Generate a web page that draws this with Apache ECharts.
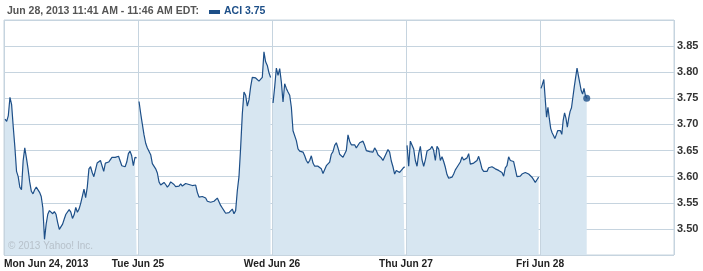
<!DOCTYPE html>
<html><head><meta charset="utf-8">
<script src="https://cdn.jsdelivr.net/npm/echarts@6/dist/echarts.min.js"></script>
<style>html,body{margin:0;padding:0;background:#fff}#c{width:703px;height:271px}</style>
</head><body><div id="c"></div>
<script>
const dayLabels = ['Mon Jun 24, 2013', 'Tue Jun 25', 'Wed Jun 26', 'Thu Jun 27', 'Fri Jun 28'];
const headerText = 'Jun 28, 2013 11:41 AM - 11:46 AM EDT:';
const legendText = 'ACI 3.75';
const copyrightText = '\u00A9 2013 Yahoo! Inc.';
const sessionMinutes = 390;
const firstTradeMinute = 3;
const lastTradeMinute = [386, 386, 386, 386, 136];

const mon = [3.710,3.706,3.717,3.752,3.738,3.695,3.656,3.610,3.600,3.580,3.575,3.630,3.655,3.636,3.615,3.590,3.572,3.567,3.575,3.580,
  3.577,3.570,3.562,3.540,3.480,3.509,3.528,3.535,3.538,3.529,3.533,3.528,3.512,3.499,3.499,3.509,3.519,3.528,3.525,3.537,
  3.532,3.520,3.527,3.541,3.532,3.538,3.549,3.551,3.576,3.560,3.580,3.615,3.619,3.608,3.600,3.600,3.626,3.624,3.631,3.628,
  3.610,3.626,3.626,3.628,3.626,3.637,3.635,3.637,3.638,3.639,3.637,3.621,3.619,3.619,3.628,3.644,3.649,3.640,3.621,3.637,3.636];
const tue = [3.744,3.721,3.700,3.680,3.664,3.655,3.652,3.642,3.625,3.626,3.615,3.607,3.590,3.584,3.587,3.589,3.585,3.580,3.584,3.590,
  3.590,3.585,3.581,3.582,3.582,3.586,3.582,3.585,3.587,3.586,3.585,3.584,3.583,3.585,3.584,3.570,3.561,3.559,3.562,3.561,
  3.559,3.553,3.553,3.551,3.552,3.553,3.556,3.559,3.556,3.545,3.540,3.535,3.530,3.532,3.531,3.530,3.538,3.529,3.535,3.573,
  3.600,3.656,3.720,3.762,3.756,3.735,3.747,3.772,3.790,3.792,3.789,3.786,3.783,3.784,3.790,3.839,3.820,3.813,3.799,3.790];
const wed = [3.741,3.772,3.808,3.794,3.807,3.781,3.743,3.778,3.769,3.762,3.756,3.733,3.688,3.685,3.669,3.653,3.649,3.649,3.647,3.640,
  3.631,3.626,3.631,3.640,3.626,3.620,3.620,3.620,3.620,3.615,3.606,3.605,3.621,3.620,3.628,3.643,3.648,3.660,3.665,3.655,
  3.643,3.642,3.637,3.636,3.650,3.680,3.668,3.661,3.660,3.661,3.655,3.655,3.665,3.665,3.668,3.660,3.650,3.647,3.648,3.646,
  3.647,3.655,3.650,3.642,3.639,3.636,3.631,3.630,3.645,3.652,3.647,3.630,3.619,3.605,3.612,3.611,3.608,3.611,3.616,3.619];
const thu = [3.660,3.620,3.668,3.671,3.653,3.631,3.620,3.644,3.658,3.632,3.620,3.632,3.649,3.650,3.653,3.658,3.650,3.631,3.658,3.653,
  3.631,3.638,3.629,3.618,3.604,3.597,3.595,3.599,3.605,3.613,3.618,3.621,3.628,3.638,3.632,3.634,3.636,3.644,3.624,3.623,
  3.626,3.628,3.631,3.639,3.628,3.615,3.610,3.610,3.610,3.617,3.615,3.619,3.616,3.615,3.613,3.612,3.610,3.608,3.601,3.617,
  3.621,3.638,3.631,3.630,3.629,3.629,3.600,3.600,3.601,3.605,3.608,3.608,3.608,3.605,3.602,3.599,3.597,3.589,3.594,3.599];
const fri = [3.769,3.777,3.786,3.785,3.714,3.733,3.711,3.692,3.684,3.679,3.673,3.680,3.688,3.688,3.688,3.681,3.708,3.722,3.712,3.695,
  3.712,3.725,3.732,3.752,3.772,3.790,3.808,3.793,3.779,3.765,3.758,3.769,3.756,3.750];

const days = [mon, tue, wed, thu, fri];

const C_LINE = '#1d4f88', C_FILL = '#d7e6f1', C_GRID = '#c6d4df';

function dayPoints(vals, d) {
  const start = d * sessionMinutes + firstTradeMinute;
  const end = d * sessionMinutes + lastTradeMinute[d];
  const step = (end - start) / (vals.length - 1);
  return vals.map((v, j) => [start + j * step, v]);
}

const series = days.map((vals, d) => ({
  type: 'line', data: dayPoints(vals, d), showSymbol: false, silent: true,
  lineStyle: { color: C_LINE, width: 1.2 },
  areaStyle: { color: C_FILL, opacity: 1, origin: 'start' },
  z: 2
}));
const friPts = dayPoints(fri, 4);
series.push({
  type: 'scatter', data: [friPts[friPts.length - 1]], symbol: 'circle', symbolSize: 7,
  itemStyle: { color: C_LINE }, silent: true, z: 5
});

const chart = echarts.init(document.getElementById('c'), null, { renderer: 'canvas' });
chart.setOption({
  animation: false,
  backgroundColor: '#fff',
  grid: { left: 4, right: 29, top: 20, bottom: 16, show: true, borderColor: C_GRID, borderWidth: 1, backgroundColor: 'transparent' },
  xAxis: {
    type: 'value', min: 0, max: sessionMinutes * 5, interval: sessionMinutes,
    axisLine: { show: false }, axisTick: { show: false },
    splitLine: { show: true, lineStyle: { color: C_GRID, width: 1 } },
    axisLabel: {
      formatter: v => dayLabels[Math.round(v / sessionMinutes)] || '',
      showMaxLabel: false, alignMinLabel: 'left', margin: 4,
      color: '#222', fontFamily: 'Liberation Sans', fontWeight: 'bold', fontSize: 10.2
    }
  },
  yAxis: {
    type: 'value', position: 'right', min: 3.45, max: 3.90, interval: 0.05,
    axisLine: { show: false }, axisTick: { show: false },
    splitLine: { show: true, lineStyle: { color: C_GRID, width: 1 } },
    axisLabel: {
      formatter: v => v.toFixed(2), showMinLabel: false, showMaxLabel: false, margin: 3,
      color: '#333', fontFamily: 'Liberation Sans', fontWeight: 'bold', fontSize: 11
    }
  },
  graphic: [
    { type: 'text', left: 7, top: 6, style: { text: headerText, fill: '#555', font: 'bold 10.5px "Liberation Sans"' } },
    { type: 'rect', shape: { x: 209, y: 10, width: 11, height: 4 }, style: { fill: C_LINE } },
    { type: 'text', left: 224, top: 6, style: { text: legendText, fill: C_LINE, font: 'bold 10.5px "Liberation Sans"' } },
    { type: 'text', left: 8, top: 241, z: 10, style: { text: copyrightText, fill: '#b7c1ca', font: '10px "Liberation Sans"' } }
  ],
  series: series
});
</script></body></html>
